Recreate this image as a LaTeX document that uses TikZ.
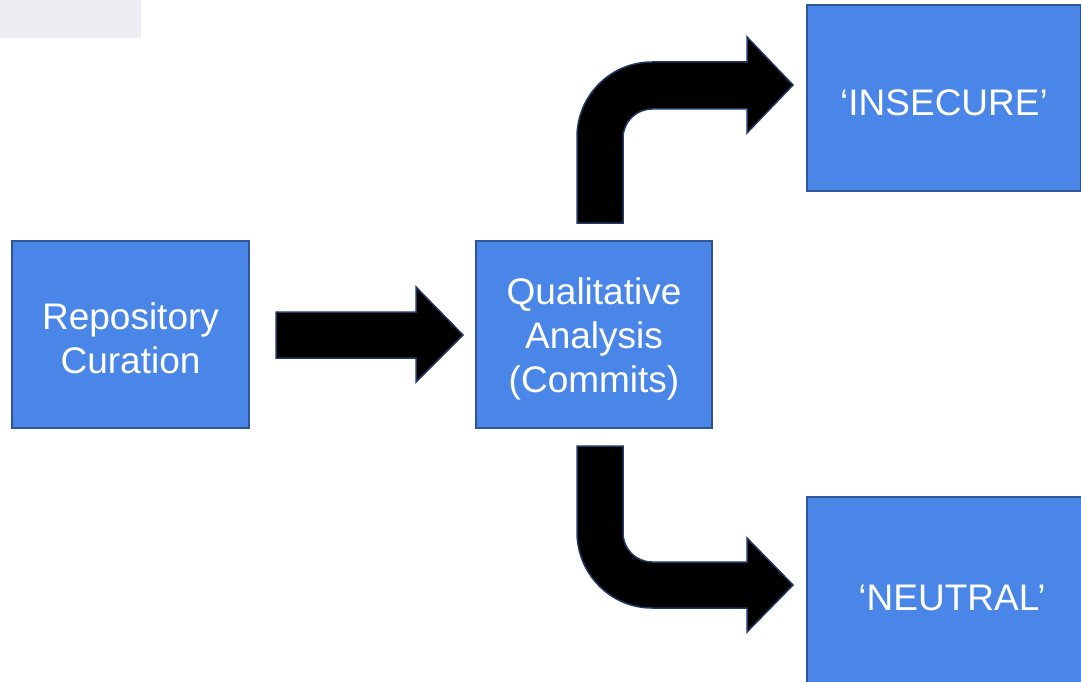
\documentclass[tikz,border=0pt]{standalone}
\usepackage{fontspec}
\setmainfont{Liberation Sans}
\definecolor{boxblue}{HTML}{4A86E8}
\definecolor{boxedge}{HTML}{2F5597}
\definecolor{arrowedge}{HTML}{1F3864}
\definecolor{tabgray}{HTML}{EEEDF3}
\newcommand{\topstrut}{\rule{0pt}{35pt}}
\begin{document}
\begin{tikzpicture}[x=1pt,y=-1pt,
  stagebox/.style={rectangle, draw=boxedge, line width=1.2pt, fill=boxblue, inner sep=0pt,
    text=white, align=center, font=\fontsize{37}{44}\selectfont},
  blockarrow/.style={fill=black, draw=arrowedge, line width=1.5pt, line join=miter}]
\useasboundingbox (0,0) rectangle (1081,682);
\clip (0,0) rectangle (1081,682);
\fill[white] (0,0) rectangle (1081,682);
\fill[tabgray] (0,0) rectangle (141,38);

\node[stagebox, minimum width=237pt, minimum height=187pt] (repo) at (130.5,334.5) {\topstrut Repository\\Curation};
\node[stagebox, minimum width=236pt, minimum height=187pt] (qual) at (594,334.5) {\topstrut Qualitative\\Analysis\\(Commits)};
\node[stagebox, minimum width=274pt, minimum height=186pt] (insec) at (944,98) {\topstrut ‘INSECURE’};
\node[stagebox, minimum width=290pt, minimum height=192pt] (neut) at (952,593) {\topstrut ‘NEUTRAL’};

% straight block arrow repo -> qual
\draw[blockarrow] (276,312) -- (416,312) -- (416,287) -- (463,335) -- (416,382) -- (416,358) -- (276,358) -- cycle;

% bent block arrow qual -> insecure
\draw[blockarrow] (577,223) -- (577,137)
  .. controls (577,95.6) and (610.6,62) .. (652,62)
  -- (747,62) -- (747,37) -- (793,85) -- (747,133) -- (747,109) -- (652,109)
  .. controls (636,109) and (623,122) .. (623,138)
  -- (623,223) -- cycle;

% bent block arrow qual -> neutral
\draw[blockarrow] (577,446) -- (577,532)
  .. controls (577,574) and (610.6,608) .. (652,608)
  -- (747,608) -- (747,632) -- (793,585) -- (747,538) -- (747,562) -- (652,562)
  .. controls (636,562) and (623,549) .. (623,533)
  -- (623,446) -- cycle;
\end{tikzpicture}
\end{document}
